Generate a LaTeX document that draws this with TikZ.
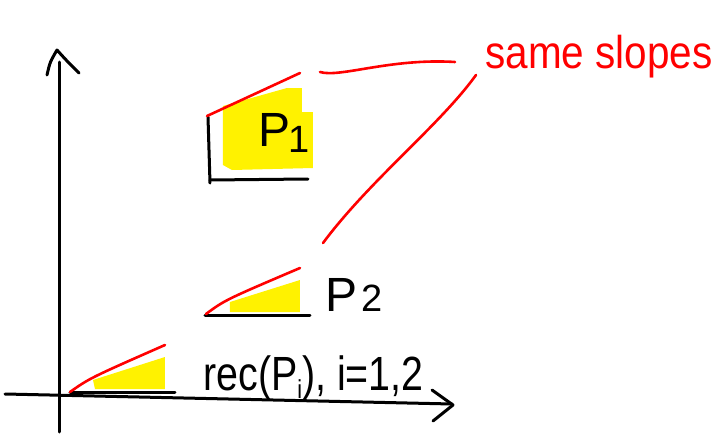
\documentclass[tikz,border=0pt]{standalone}
\usepackage{fontspec}
\setmainfont{Liberation Sans}
\begin{document}
\begin{tikzpicture}[x=0.5pt,y=-0.5pt,
  ink/.style={line width=1.5pt,line cap=round,line join=round,black},
  redink/.style={line width=1.3pt,line cap=round,red},
  hl/.style={fill=yellow,draw=none},
  lbl/.style={inner sep=0pt,anchor=base west,font=\fontsize{24}{28}\selectfont}]
\useasboundingbox (0,0) rectangle (720,445);
% named points
\coordinate (yb) at (60,432);
\coordinate (yt) at (60,62);
\coordinate (xl) at (5,394);
\coordinate (xr) at (452,404);
% axes
\draw[ink] (yb) -- (yt);
\draw[ink] (47,75) .. controls (50,62) .. (57,50) .. controls (66,60) .. (79,73);
\draw[ink] (xl) -- (xr);
\draw[ink] (432,390) -- (453,405) -- (433,421);
% yellow highlights
\fill[hl] (93,380) -- (165,357) -- (165,389) -- (95,389) -- cycle;
\fill[hl] (230,302) -- (300,280) -- (300,312) -- (230,312) -- cycle;
\fill[hl] (223,106) -- (287,88) -- (302,88) -- (302,112) -- (313,112) -- (313,168) -- (232,170) -- (223,165) -- cycle;
% bottom wedge
\coordinate (b0) at (70,392);
\draw[ink] (b0) -- (175,392);
\draw[redink] (b0) .. controls (90,378) .. (165,345);
% P2 wedge
\coordinate (m0) at (206,314);
\coordinate (m1) at (300,268);
\draw[ink] (205,315) -- (310,315);
\draw[redink] (m0) .. controls (225,300) .. (m1);
% P1 corner
\coordinate (t0) at (207,116);
\coordinate (t1) at (300,73);
\draw[ink] (208,117) -- (210,183);
\draw[ink] (210,180) -- (308,179);
\draw[redink] (t0) -- (t1);
% labels
\node[lbl] (p1) at (258,146) {P\kern-1pt\raisebox{-3pt}{\fontsize{19}{22}\selectfont 1}};
\node[lbl] (p2) at (325,311) {P\kern2pt{\fontsize{19}{22}\selectfont 2}};
\node[lbl] (rec) at (203,390) {\scalebox{0.82}[1]{rec(P\raisebox{-4pt}{\fontsize{13}{15}\selectfont i}), i=1,2}};
\node[lbl,red] (same) at (485,68) {\scalebox{0.88}[1]{\fontsize{23}{26}\selectfont same slopes}};
% red connectors
\coordinate (c1a) at (320,72);
\coordinate (c1b) at (455,62);
\coordinate (c2a) at (323,243);
\coordinate (c2b) at (476,75);
\draw[redink] (c1a) .. controls (340,78) and (390,58) .. (c1b);
\draw[redink] (c2a) .. controls (370,180) and (440,125) .. (c2b);
\end{tikzpicture}
\end{document}
